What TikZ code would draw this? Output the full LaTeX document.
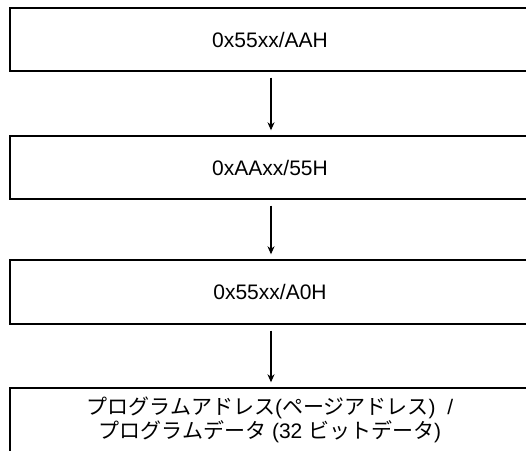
\documentclass[tikz,border=0pt]{standalone}
\usepackage{fontspec}
\setmainfont{Liberation Sans}
\newfontfamily\jpfont{Noto Sans CJK JP}
\newcommand{\ja}[1]{{\jpfont #1}}
\usetikzlibrary{arrows.meta}
\begin{document}
\begin{tikzpicture}[x=1pt,y=-1pt,
  stepbox/.style={draw,line width=1.4pt,minimum width=520pt,inner sep=0pt,
    align=center,font=\fontsize{21}{24}\selectfont},
  flow/.style={line width=1.2pt,-{Stealth[length=8pt,width=7pt,inset=2.5pt]}}]
  \path[use as bounding box] (0,0) rectangle (526,450);
  \clip (0,0) rectangle (526,450);
  \node[stepbox,minimum height=63pt] (w1) at (270,39.5) {0x55xx/AAH};
  \node[stepbox,minimum height=63pt] (w2) at (270,167.5) {0xAAxx/55H};
  \node[stepbox,minimum height=64pt] (w3) at (270,292) {0x55xx/A0H};
  \node[stepbox,minimum height=64pt] (w4) at (270,420)
    {\ja{プログラムアドレス}(\ja{ページアドレス})\ \ /\\
     \ja{プログラムデータ} (32 \ja{ビットデータ})};
  \foreach \a/\b in {w1/w2,w2/w3,w3/w4}
    \draw[flow] ([xshift=1pt,yshift=-6pt]\a.south) -- ([xshift=1pt,yshift=5pt]\b.north);
\end{tikzpicture}
\end{document}
